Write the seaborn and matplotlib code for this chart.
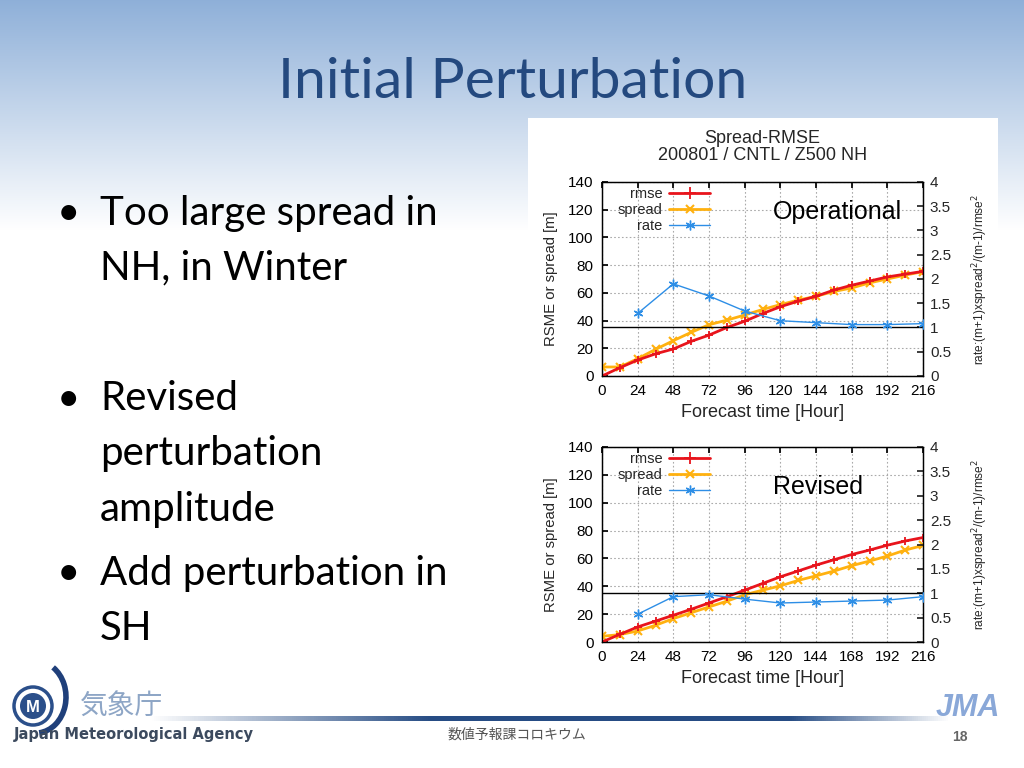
import numpy as np
import pandas as pd
import matplotlib
matplotlib.use("Agg")
import matplotlib.pyplot as plt
import seaborn as sns
from matplotlib.lines import Line2D
from matplotlib.patches import Circle, Rectangle, Arc

# ---------------- data ----------------
hours = [0, 12, 24, 36, 48, 60, 72, 84, 96, 108, 120, 132, 144, 156, 168, 180, 192, 204, 216]
rate_hours = [24, 48, 72, 96, 120, 144, 168, 192, 216]

op_rmse = [0, 6, 11.5, 16, 19.5, 25, 29.5, 35, 39.5, 45, 50, 54, 57.5, 62, 65.5, 68.5, 71.5, 73.5, 75.5]
op_spread = [6.5, 6.5, 12.5, 19.2, 25.5, 31.5, 37, 40.3, 44, 48, 51.5, 54.8, 57.5, 61, 63.5, 67.2, 70, 72.8, 75.3]
op_rate = [1.29, 1.90, 1.65, 1.34, 1.14, 1.10, 1.06, 1.06, 1.08]

rv_rmse = [0, 5.5, 10.8, 15, 19.2, 23.5, 28, 32.5, 37.2, 42, 46.8, 51, 55.2, 59, 62.8, 66, 69.5, 72.5, 75]
rv_spread = [4.1, 5.3, 7.9, 12, 16.8, 21, 25.2, 29.3, 33.9, 37.2, 40.3, 44.2, 47.5, 50.9, 54.8, 58.1, 61.7, 66, 69.3]
rv_rate = [0.57, 0.93, 0.97, 0.88, 0.80, 0.82, 0.84, 0.86, 0.93]

xticks = [0, 24, 48, 72, 96, 120, 144, 168, 192, 216]
yticks_left = [0, 20, 40, 60, 80, 100, 120, 140]
yticks_right = [0, 0.5, 1, 1.5, 2, 2.5, 3, 3.5, 4]

chart_title = "Spread-RMSE\n200801 / CNTL / Z500 NH"
slide_title = "Initial Perturbation"
bullets = [
    (213, "Too large spread in"), (268, "NH, in Winter"),
    (399, "Revised"), (454, "perturbation"), (509, "amplitude"),
    (574, "Add perturbation in"), (629, "SH"),
]
bullet_rows = [213, 399, 574]

# ---------------- style ----------------
sns.set_theme(style="white")
plt.rcParams['font.family'] = ['Liberation Sans', 'DejaVu Sans']

W, H = 1024, 768
fig = plt.figure(figsize=(W / 100, H / 100), dpi=100)

# background axes in pixel coordinates
bg = fig.add_axes([0, 0, 1, 1])
bg.set_xlim(0, W)
bg.set_ylim(H, 0)
bg.axis("off")

rows = np.arange(H)
t = np.clip(rows / 230.0, 0, 1)
top = np.array([0.56, 0.69, 0.85])
grad = top[None, :] * (1 - t[:, None]) + np.ones(3)[None, :] * t[:, None]
grad = np.repeat(grad[:, None, :], 2, axis=1)
bg.imshow(grad, extent=[0, W, H, 0], aspect="auto", zorder=0)

# white chart panel
bg.add_patch(Rectangle((528, 118), 470, 575, facecolor="white", edgecolor="none", zorder=1))

# title
bg.text(513, 83, slide_title, ha="center", va="center", fontsize=41,
        color="#24497f", family=["Lato", "DejaVu Sans"], zorder=2)

# bullets
for y, txt in bullets:
    bg.text(100, y, txt, ha="left", va="center", fontsize=29,
            color="black", family=["Lato", "DejaVu Sans"], zorder=2)
for y in bullet_rows:
    bg.text(57, y, "\u2022", ha="left", va="center", fontsize=29,
            color="black", family=["Lato", "DejaVu Sans"], zorder=2)

# footer line gradient
fx = np.linspace(0, 1, 400)
alpha = np.clip(np.minimum(fx / 0.35, (1 - fx) / 0.2), 0, 1)
line_rgba = np.zeros((1, 400, 4))
line_rgba[0, :, 0] = 0.15
line_rgba[0, :, 1] = 0.30
line_rgba[0, :, 2] = 0.52
line_rgba[0, :, 3] = alpha
bg.imshow(line_rgba, extent=[150, 950, 721, 716], aspect="auto", zorder=2)

# logo
bg.add_patch(Circle((33, 706), 19, facecolor="white", edgecolor="#2b4f8a", lw=2.5, zorder=3))
bg.add_patch(Circle((33, 706), 13, facecolor="#2b4f8a", edgecolor="none", zorder=3))
bg.text(33, 707, "M", ha="center", va="center", fontsize=12, color="white",
        fontweight="bold", zorder=4)
bg.add_patch(Arc((36, 697), 60, 72, angle=0, theta1=-60, theta2=85,
                 color="#1f3f7a", lw=4, zorder=3))
bg.text(80, 707, "気象庁", ha="left", va="center", fontsize=20, color="#8ea6c6",
        family=["Noto Sans CJK JP", "DejaVu Sans"], zorder=3)
bg.text(14, 735, "Japan Meteorological Agency", ha="left", va="center", fontsize=10.5,
        color="#3c4a5e", fontweight="bold", family=["DejaVu Sans"], zorder=3)
bg.text(517, 735, "数値予報課コロキウム", ha="center", va="center", fontsize=10,
        color="#555555", family=["Noto Sans CJK JP", "DejaVu Sans"], zorder=3)
bg.text(960, 737, "18", ha="center", va="center", fontsize=10, color="#666666",
        fontweight="bold", zorder=3)
bg.text(968, 708, "JMA", ha="center", va="center", fontsize=22, color="#8aa8d8",
        fontweight="bold", fontstyle="italic", zorder=3)

# ---------------- charts ----------------
c_rmse = "#e8141c"
c_spread = "#ffb10f"
c_rate = "#2d8ee6"


def px_axes(left, top, right, bottom):
    return fig.add_axes([left / W, 1 - bottom / H, (right - left) / W, (bottom - top) / H])


def draw_chart(ax, rmse, spread, rate, label, lx, ly):
    df = pd.DataFrame({"hour": hours, "rmse": rmse, "spread": spread})
    dfr = pd.DataFrame({"hour": rate_hours, "rate": rate})
    ax.set_facecolor("none")
    sns.lineplot(data=df, x="hour", y="spread", ax=ax, color=c_spread, lw=2,
                 marker="x", markersize=6, markeredgewidth=1.5, markeredgecolor=c_spread, zorder=3)
    sns.lineplot(data=df, x="hour", y="rmse", ax=ax, color=c_rmse, lw=2,
                 marker="+", markersize=6, markeredgewidth=1.3, markeredgecolor=c_rmse, zorder=4)
    ax.set_xlim(0, 216)
    ax.set_ylim(0, 140)
    ax.set_xticks(xticks)
    ax.set_yticks(yticks_left)
    ax.grid(True, color="#aaaaaa", linestyle=(0, (1.5, 2)), lw=0.8)
    ax.tick_params(direction="in", length=4, labelsize=11, colors="black",
                   top=True, right=False, pad=6)
    for s in ax.spines.values():
        s.set_color("black")
        s.set_linewidth(0.9)
    ax.set_xlabel("Forecast time [Hour]", fontsize=13, labelpad=4)
    ax.set_ylabel("RSME or spread [m]", fontsize=10.7, labelpad=7)

    ax2 = ax.twinx()
    sns.lineplot(data=dfr, x="hour", y="rate", ax=ax2, color=c_rate, lw=1,
                 marker=(6, 2, 0), markersize=7, markeredgewidth=1, markeredgecolor=c_rate, zorder=3)
    ax2.axhline(1, color="black", lw=1, zorder=2)
    ax2.set_ylim(0, 4)
    ax2.set_yticks(yticks_right)
    ax2.set_yticklabels(["%g" % v for v in yticks_right])
    ax2.tick_params(direction="in", length=4, labelsize=11, pad=5)
    ax2.set_ylabel("rate:(m+1)xspread$^2$/(m-1)/rmse$^2$", fontsize=8.6, labelpad=14)
    ax2.grid(False)
    for s in ax2.spines.values():
        s.set_color("black")
        s.set_linewidth(0.9)

    handles = [
        Line2D([], [], color=c_rmse, lw=2, marker="+", markersize=8, markeredgewidth=1.3),
        Line2D([], [], color=c_spread, lw=2, marker="x", markersize=6, markeredgewidth=1.5),
        Line2D([], [], color=c_rate, lw=1, marker=(6, 2, 0), markersize=7, markeredgewidth=1),
    ]
    leg = ax2.legend(handles, ["rmse", "spread", "rate"], loc="upper right",
                     bbox_to_anchor=(0.355, 1.005), markerfirst=False, frameon=False,
                     fontsize=10.5, handlelength=2.8, labelspacing=0.13, handletextpad=0.45,
                     borderaxespad=0.0, markerscale=1)
    for tx in leg.get_texts():
        tx.set_ha("right")
    ax2.text(lx, ly, label, transform=ax2.transAxes, ha="center", va="center",
             fontsize=18, color="black")
    return ax2


ax1 = px_axes(602, 182, 923, 376)
draw_chart(ax1, op_rmse, op_spread, op_rate, "Operational", 0.733, 0.845)
ax1.set_title(chart_title, fontsize=13, pad=16, linespacing=1.0)

ax2 = px_axes(602, 447, 923, 642)
draw_chart(ax2, rv_rmse, rv_spread, rv_rate, "Revised", 0.673, 0.795)

fig.savefig("out.png", dpi=100)
